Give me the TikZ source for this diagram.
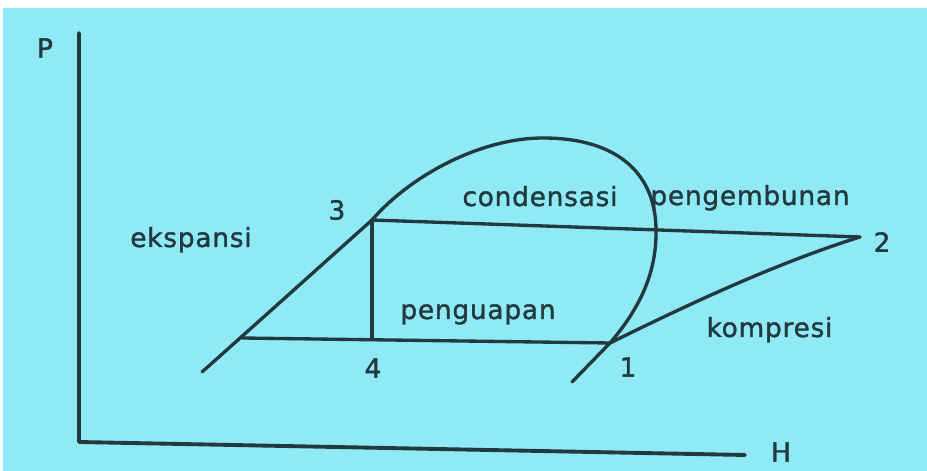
\documentclass[tikz,border=0pt]{standalone}
\usepackage{fontspec}
\setmainfont{DejaVu Sans}[LetterSpace=3,FakeBold=1.4]
\usepackage{xcolor}
\usepackage{tikz}
\definecolor{PHCyan}{HTML}{8FEAF6}
\definecolor{PHInk}{HTML}{22393F}

\begin{document}
\begin{tikzpicture}[x=1cm,y=1cm,
  ink/.style={PHInk,line width=1.9pt,line cap=round,line join=round},
  lbl/.style={inner sep=0pt,text=PHInk,font=\fontsize{15}{18}\selectfont}]
\path[use as bounding box] (0,0) rectangle (18.54,9.42);
\fill[white] (0,0) rectangle (18.54,9.42);
\fill[PHCyan] (0.05,0) rectangle (18.54,9.26);
% axes
\coordinate (o) at (1.58,0.58);
\coordinate (ptop) at (1.58,8.76);
\coordinate (hend) at (14.90,0.32);
\draw[ink,line width=2.2pt] (ptop) -- (o) -- (hend);
\node[lbl] (pl) at (0.90,8.46) {P};
\node[lbl] (hl) at (15.62,0.38) {H};
% cycle points
\coordinate (s3) at (7.44,5.02);
\coordinate (s2) at (17.20,4.68);
\coordinate (s4) at (7.44,2.64);
\coordinate (s1) at (12.20,2.56);
\coordinate (sl) at (4.84,2.66);
\coordinate (da) at (4.04,1.98);
\coordinate (dtop) at (10.86,6.66);
\coordinate (dr) at (13.12,4.76);
\coordinate (db) at (11.44,1.78);
% saturation dome
\draw[ink] (da) .. controls (5.5,3.28) and (6.7,4.36) .. (s3)
  .. controls (8.2,5.9) and (9.6,6.66) .. (dtop)
  .. controls (12.4,6.66) and (13.14,5.9) .. (dr)
  .. controls (13.12,3.9) and (12.75,3.2) .. (s1) -- (db);
% cycle
\draw[ink] (s3) -- (s2);
\draw[ink] (s3) -- (s4);
\draw[ink] (sl) -- (s1);
\draw[ink] (s1) .. controls (13.7,3.3) and (15.5,4.15) .. (s2);
% labels
\node[lbl] (n3) at (6.74,5.22) {3};
\node[lbl] (n4) at (7.46,2.06) {4};
\node[lbl] (n1) at (12.56,2.08) {1};
\node[lbl] (n2) at (17.64,4.58) {2};
\node[lbl,anchor=base] (tcond) at (10.80,5.30) {condensasi};
\node[lbl,anchor=base] (tpeng) at (15.00,5.32) {pengembunan};
\node[lbl,anchor=base] (teks) at (3.82,4.48) {ekspansi};
\node[lbl,anchor=base] (tuap) at (9.56,3.04) {penguapan};
\node[lbl,anchor=base] (tkomp) at (15.39,2.68) {kompresi};
\end{tikzpicture}
\end{document}
